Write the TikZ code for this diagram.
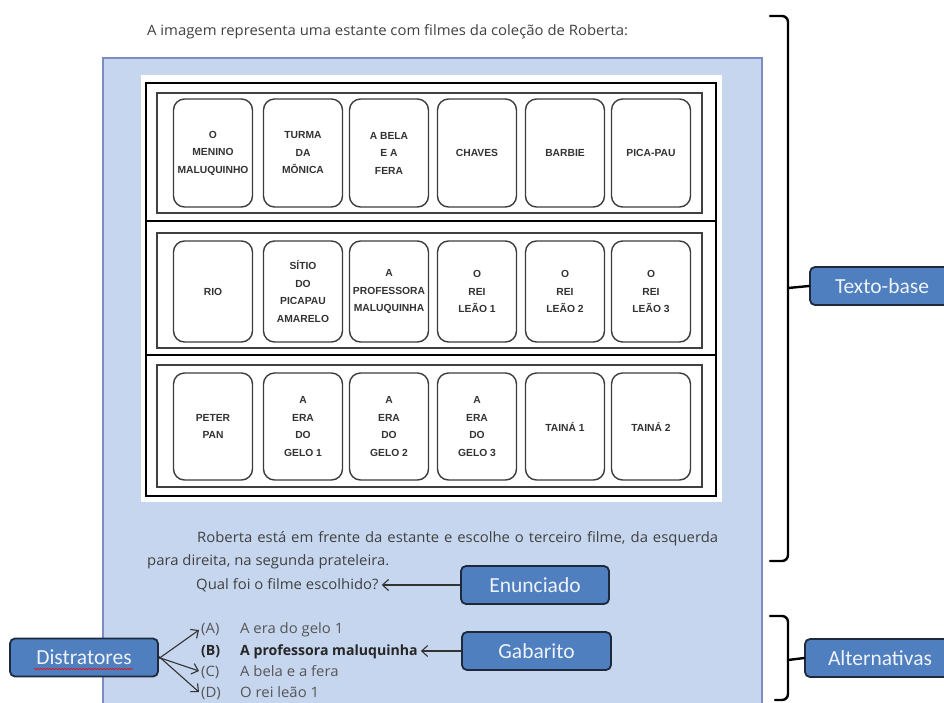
\documentclass[tikz,border=0pt]{standalone}
\usepackage{fontspec}
\usetikzlibrary{arrows.meta,decorations.pathmorphing}
\newfontfamily\cardf{Liberation Sans}
\newfontfamily\bodyf[FakeStretch=1.04]{Open Sans}
\newfontfamily\boldf{Open Sans}
\newfontfamily\labf{Carlito}
\definecolor{panelfill}{HTML}{C6D6EE}
\definecolor{panelline}{HTML}{7D8DC4}
\definecolor{labfill}{HTML}{4F7FBE}
\definecolor{labline}{HTML}{1E2A3C}
\definecolor{labtext}{HTML}{EEF2FA}
\definecolor{cardline}{HTML}{3C3C3C}
\definecolor{cardtext}{HTML}{333333}
\definecolor{bodytext}{HTML}{404040}
\definecolor{alttext}{HTML}{555555}
\tikzset{
  card/.style={draw=cardline, line width=1.4pt, fill=white, rounded corners=11pt,
    minimum width=79pt, align=center, inner sep=0pt, text=cardtext,
    font=\cardf\bfseries\fontsize{10.3}{17.5}\selectfont},
  r1/.style={card, minimum height=108pt},
  r2/.style={card, minimum height=101pt},
  r3/.style={card, minimum height=107pt},
  lab/.style={draw=labline, line width=1.8pt, fill=labfill, rounded corners=5pt,
    text=labtext, font=\labf\fontsize{21.5}{24}\selectfont, inner sep=0pt,
    minimum height=38pt},
  body/.style={text=bodytext, inner sep=0pt, font=\bodyf\fontsize{14.3}{16}\selectfont},
  alt/.style={text=alttext, inner sep=0pt, font=\bodyf\fontsize{14.3}{16}\selectfont},
  altb/.style={text=black!85, inner sep=0pt, font=\boldf\bfseries\fontsize{14.1}{16}\selectfont},
  brk/.style={line width=2.4pt, black, line cap=round},
  arr/.style={line width=1.1pt, black!80, -{Straight Barb[length=6pt,width=11pt]}},
  shelf/.style={draw=black!75, line width=1.3pt}
}
\begin{document}
\begin{tikzpicture}[x=1pt,y=-1pt]
\useasboundingbox (0,0) rectangle (944,702);
\clip (0,0) rectangle (944,702);
\fill[white] (0,0) rectangle (944,702);
% panel
\draw[fill=panelfill, draw=panelline, line width=1.6pt] (103,58) rectangle (762,720);
% top text
\node[body, anchor=base west] (intro) at (147,35) {A imagem representa uma estante com filmes da coleção de Roberta:};
% shelf
\fill[white] (141,75) rectangle (722,502);
\draw[black, line width=2.6pt] (146,83) rectangle (716,496);
\draw[black, line width=2.4pt] (146,221) -- (716,221);
\draw[black, line width=2.4pt] (146,355) -- (716,355);
\draw[shelf] (157,93) rectangle (702,213);
\draw[shelf] (157,233) rectangle (702,348);
\draw[shelf] (157,365) rectangle (702,487);
% row 1
\node[r1] (c11) at (213,153) {O\\MENINO\\MALUQUINHO};
\node[r1] (c12) at (303,153) {TURMA\\DA\\MÔNICA};
\node[r1] (c13) at (389,153) {A BELA\\E A\\FERA};
\node[r1] (c14) at (477,153) {CHAVES};
\node[r1] (c15) at (565,153) {BARBIE};
\node[r1] (c16) at (651,153) {PICA-PAU};
% row 2
\node[r2] (c21) at (213,291.5) {RIO};
\node[r2] (c22) at (303,291.5) {SÍTIO\\DO\\PICAPAU\\AMARELO};
\node[r2] (c23) at (389,291.5) {A\\PROFESSORA\\MALUQUINHA};
\node[r2] (c24) at (477,291.5) {O\\REI\\LEÃO 1};
\node[r2] (c25) at (565,291.5) {O\\REI\\LEÃO 2};
\node[r2] (c26) at (651,291.5) {O\\REI\\LEÃO 3};
% row 3
\node[r3] (c31) at (213,426.5) {PETER\\PAN};
\node[r3] (c32) at (303,426.5) {A\\ERA\\DO\\GELO 1};
\node[r3] (c33) at (389,426.5) {A\\ERA\\DO\\GELO 2};
\node[r3] (c34) at (477,426.5) {A\\ERA\\DO\\GELO 3};
\node[r3] (c35) at (565,426.5) {TAINÁ 1};
\node[r3] (c36) at (651,426.5) {TAINÁ 2};
% paragraph
\node[body, anchor=base west] (p1) at (197,542) {\makebox[521pt][s]{Roberta está em frente da estante e escolhe o terceiro filme, da esquerda}};
\node[body, anchor=base west] (p2) at (147,565) {para direita, na segunda prateleira.};
\node[body, anchor=base west] (qual) at (196,589) {Qual foi o filme escolhido?};
% alternatives
\node[alt, anchor=base west] (la) at (201,633) {(A)};
\node[alt, anchor=base west] (ta) at (240,633) {A era do gelo 1};
\node[altb, anchor=base west] (lb) at (201,655) {(B)};
\node[altb, anchor=base west] (tb) at (240,655) {A professora maluquinha};
\node[alt, anchor=base west] (lc) at (201,676) {(C)};
\node[alt, anchor=base west] (tc) at (240,676) {A bela e a fera};
\node[alt, anchor=base west] (ld) at (201,697) {(D)};
\node[alt, anchor=base west] (td) at (240,697) {O rei leão 1};
% label boxes
\node[lab, minimum width=148pt] (enun) at (535,585) {Enunciado};
\node[lab, minimum width=149pt] (gab) at (536.5,651) {Gabarito};
\node[lab, minimum width=148pt] (dis) at (84,657.5) {Distratores};
\node[lab, minimum width=144pt] (tb0) at (882,286) {Texto-base};
\node[lab, minimum width=150pt] (alts) at (880,658) {Alternativas};
\draw[red, line width=0.6pt, decorate, decoration={snake, amplitude=0.7pt, segment length=3pt}] (34,669) -- (133,669);
% arrows
\draw[arr] (enun.west) -- ([xshift=3pt]enun.west -| qual.east);
\draw[arr] (gab.west) -- ([xshift=3pt]gab.west -| tb.east);
\draw[arr] ([yshift=-1pt]dis.east) -- ([xshift=-2pt,yshift=-1pt]la.west);
\draw[arr] (dis.east) -- ([xshift=-2pt,yshift=1pt]lc.west);
\draw[arr] ([yshift=1pt]dis.east) -- ([xshift=-2pt,yshift=1pt]ld.west);
% brackets
\draw[brk] (770,16) -- (782,16) to[out=0,in=90] (788,22) -- (788,555) to[out=-90,in=0] (782,561) -- (770,561);
\draw[brk] (788,288) -- (tb0.west);
\draw[brk] (770,616) -- (782,616) to[out=0,in=90] (788,622) -- (788,694) to[out=-90,in=0] (782,700) -- (775,700);
\draw[brk] (788,660) -- (alts.west);
\end{tikzpicture}
\end{document}
